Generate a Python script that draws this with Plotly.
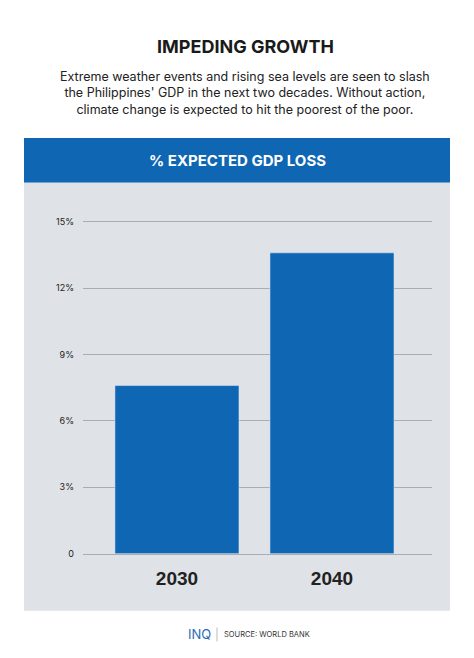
import plotly.graph_objects as go

years = ["2030", "2040"]
gdp_loss = [7.6, 13.6]
tick_vals = [0, 3, 6, 9, 12, 15]
tick_text = ["0", "3%", "6%", "9%", "12%", "15%"]

W, H = 474, 658
BLUE = "#0f66b3"
PANEL = "#dfe2e6"


def px(x):
    return x / W


def py(y):
    return 1 - y / H


fig = go.Figure(
    go.Bar(
        x=years,
        y=gdp_loss,
        marker_color=BLUE,
        width=0.8,
        hovertemplate="%{x}: %{y}%<extra></extra>",
    )
)

shapes = [
    # grey panel and blue header band
    dict(type="rect", xref="paper", yref="paper", x0=px(16), x1=px(442),
         y0=py(607), y1=py(127), fillcolor=PANEL, line_width=0, layer="below"),
    dict(type="rect", xref="paper", yref="paper", x0=px(16), x1=px(442),
         y0=py(172), y1=py(127), fillcolor=BLUE, line_width=0, layer="below"),
    # footer divider
    dict(type="line", xref="paper", yref="paper", x0=px(209), x1=px(209),
         y0=py(638), y1=py(624), line=dict(color="#bbbbbb", width=1)),
]


def note(text, x, y, size, color, xanchor="center"):
    return dict(text=text, xref="paper", yref="paper", x=x, y=y,
                xanchor=xanchor, yanchor="middle", showarrow=False,
                font=dict(family="Inter", size=size, color=color))


annotations = [
    note("<b>IMPEDING GROWTH</b>", 0.5, py(34), 18, "#1a1a1a"),
    note("Extreme weather events and rising sea levels are seen to slash<br>"
         "the Philippines' GDP in the next two decades. Without action,<br>"
         "climate change is expected to hit the poorest of the poor.",
         0.5, py(81), 12.5, "#222222"),
    note("<b>% EXPECTED GDP LOSS</b>", px(229), py(150), 15, "white"),
    note("INQ", px(205), py(631), 13, "#2a6db3", "right"),
    note("SOURCE: WORLD BANK", px(214), py(631), 7.5, "#333333", "left"),
]

fig.update_layout(
    width=W, height=H,
    margin=dict(l=0, r=0, t=0, b=0),
    paper_bgcolor="white",
    plot_bgcolor="rgba(0,0,0,0)",
    showlegend=False,
    shapes=shapes,
    annotations=annotations,
    xaxis=dict(domain=[px(75), px(424)], range=[-0.606, 1.645],
               tickfont=dict(family="Arial", size=19, color="#222222", weight="bold"),
               ticks="", showgrid=False, zeroline=False, ticklabelstandoff=8,
               showline=True, linecolor="#a9adb2", linewidth=1),
    yaxis=dict(domain=[py(549), py(211)], range=[0, 15.05], tickvals=tick_vals,
               ticktext=tick_text, gridcolor="#a9adb2", gridwidth=1,
               zeroline=False, showline=False, ticks="",
               tickfont=dict(family="Inter", size=9, color="#222222"),
               ticklabelstandoff=8),
)

fig.write_html("out.html")
